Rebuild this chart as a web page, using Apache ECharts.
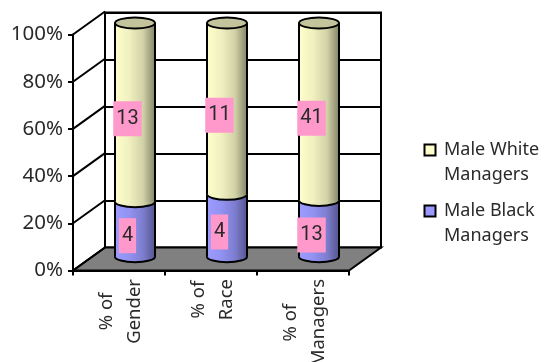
<!DOCTYPE html>
<html>
<head>
<meta charset="utf-8">
<style>html,body{margin:0;padding:0;background:#fff}#chart{width:546px;height:362px}</style>
<script src="https://cdn.jsdelivr.net/npm/echarts@6/dist/echarts.min.js"></script>
</head>
<body>
<div id="chart"></div>
<script>
const categories = ['% of\nGender', '% of\nRace', '% of\nManagers'];
const maleBlack = [4, 4, 13];
const maleWhite = [13, 11, 41];
const yTicks = [0, 20, 40, 60, 80, 100];

// Depth of the box: how far the back wall sits from the front axes.
const DEPTH_X = 32, DEPTH_Y = -23;
const CYL_HALF = 20, CYL_RY = 5.5;
const CYL_SCALE = 0.99;
const FONT = '"Noto Sans", sans-serif';
const INK = '#2a2a2a';

const blackShare = maleBlack.map((v, i) => v / (v + maleWhite[i]) * 100);
const blackData = maleBlack.map((v, i) => [i, 0, blackShare[i], v]);
const whiteData = maleWhite.map((v, i) => [i, blackShare[i], 100, v]);

const band = (stops) => ({
  type: 'linear', x: 0, y: 0, x2: 1, y2: 0,
  colorStops: stops.map(([offset, color]) => ({ offset, color }))
});
const blueFill = band([[0, '#9c9cff'], [0.35, '#9292f2'], [0.7, '#7d7dcf'], [1, '#565690']]);
const creamFill = band([[0, '#ffffcc'], [0.35, '#f0f0c0'], [0.7, '#d2d2a8'], [1, '#858568']]);

function cylinder(fill, capFill) {
  return function (params, api) {
    const i = api.value(0);
    const top = params.coordSys.y;
    const level = (py) => top + (py - top) * CYL_SCALE + DEPTH_Y / 2;
    const low = api.coord([i, api.value(1)]);
    const high = api.coord([i, api.value(2)]);
    const cx = low[0] + DEPTH_X / 2;
    const y0 = level(low[1]);
    const y1 = level(high[1]);
    const line = { stroke: '#000', lineWidth: 2 };
    const children = [
      { type: 'ellipse', shape: { cx, cy: y0, rx: CYL_HALF, ry: CYL_RY }, style: { fill, ...line } },
      { type: 'rect', shape: { x: cx - CYL_HALF, y: y1, width: CYL_HALF * 2, height: y0 - y1 }, style: { fill } },
      { type: 'line', shape: { x1: cx - CYL_HALF, y1: y0, x2: cx - CYL_HALF, y2: y1 }, style: line },
      { type: 'line', shape: { x1: cx + CYL_HALF, y1: y0, x2: cx + CYL_HALF, y2: y1 }, style: line }
    ];
    if (capFill) {
      children.push({ type: 'ellipse', shape: { cx, cy: y1, rx: CYL_HALF, ry: CYL_RY }, style: { fill: capFill, ...line } });
    }
    children.push({
      type: 'text', x: cx - 7.5, y: (y0 + y1) / 2 + 6.5, z2: 50,
      style: {
        text: String(api.value(3)), font: '20px Roboto, sans-serif', fill: INK,
        align: 'center', verticalAlign: 'middle',
        backgroundColor: '#ff99cc', padding: [7.5, 3, 7.5, 3]
      }
    });
    return { type: 'group', children };
  };
}

// Floor and the diagonal edges of the left side wall.
function boxEdges(params, api) {
  const sys = params.coordSys;
  const p = api.coord([0, api.value(0)]);
  const xl = sys.x, yb = sys.y + sys.height, xr = sys.x + sys.width;
  const line = { stroke: '#000', lineWidth: 2 };
  const children = [{
    type: 'line',
    shape: { x1: xl, y1: p[1], x2: xl + DEPTH_X, y2: p[1] + DEPTH_Y },
    style: line
  }];
  if (api.value(0) === 0) {
    children.unshift({
      type: 'polygon',
      shape: { points: [[xl, yb], [xl + DEPTH_X, yb + DEPTH_Y], [xr + DEPTH_X, yb + DEPTH_Y], [xr, yb]] },
      style: { fill: '#808080', ...line }
    });
  }
  return { type: 'group', children };
}

// Rotated category captions, hung from a common top edge with each line centred.
const CAPTION_FONT = '18.5px ' + FONT;
const measure = document.createElement('canvas').getContext('2d');
measure.font = CAPTION_FONT;
function caption(params, api) {
  const i = api.value(0);
  const text = categories[i];
  const longest = Math.max(...text.split('\n').map(s => measure.measureText(s).width));
  const p = api.coord([i, 0]);
  return {
    type: 'text', x: p[0] + 1.5, y: 279 + longest / 2, rotation: Math.PI / 2,
    style: { text, font: CAPTION_FONT, fill: INK, align: 'center', verticalAlign: 'middle', lineHeight: 28 }
  };
}

const chart = echarts.init(document.getElementById('chart'), null, { renderer: 'canvas' });
chart.setOption({
  animation: false,
  backgroundColor: '#fff',
  grid: [
    { left: 73, top: 34.5, width: 276, height: 236 },
    { left: 105, top: 12.5, width: 276, height: 235, show: true, borderColor: '#000', borderWidth: 2, backgroundColor: '#fff' }
  ],
  xAxis: [
    {
      type: 'category', gridIndex: 0, data: categories,
      axisLine: { lineStyle: { color: '#000', width: 2 } },
      axisTick: { show: true, length: 5, lineStyle: { color: '#000', width: 2 } },
      axisLabel: { show: false }
    },
    {
      type: 'category', gridIndex: 1, data: categories,
      axisLine: { show: false }, axisTick: { show: false }, axisLabel: { show: false }
    }
  ],
  yAxis: [
    {
      type: 'value', gridIndex: 0, min: 0, max: 100, interval: 20,
      axisLine: { show: true, lineStyle: { color: '#000', width: 2 } },
      axisTick: { show: true, length: 5, lineStyle: { color: '#000', width: 2 } },
      axisLabel: { margin: 10, color: INK, fontFamily: FONT, fontSize: 20.5, padding: [3, 0, 0, 0], formatter: '{value}%' },
      splitLine: { show: false }
    },
    {
      type: 'value', gridIndex: 1, min: 0, max: 100, interval: 20,
      axisLine: { show: false }, axisTick: { show: false }, axisLabel: { show: false },
      splitLine: { show: true, lineStyle: { color: '#000', width: 2 } }
    }
  ],
  legend: {
    left: 423.5, top: 111.5, padding: 0, orient: 'vertical', selectedMode: false,
    itemWidth: 11, itemHeight: 11, itemGap: -16, icon: 'rect',
    data: ['Male White Managers', 'Male Black Managers'],
    // A blank first line keeps the swatch level with the first line of the name.
    formatter: (name) => '\n' + name.replace(' Managers', '\nManagers'),
    textStyle: { color: INK, fontFamily: FONT, fontSize: 18, lineHeight: 25, padding: [2, 0, 0, 3.5] }
  },
  series: [
    {
      type: 'custom', xAxisIndex: 0, yAxisIndex: 0, z: 2, silent: true, clip: false,
      data: yTicks.map(v => [v]), encode: { y: 0 }, renderItem: boxEdges
    },
    {
      name: 'Male Black Managers', type: 'custom', z: 3, clip: false, silent: true,
      xAxisIndex: 0, yAxisIndex: 0,
      itemStyle: { color: '#9999ff', borderColor: '#000', borderWidth: 2 },
      data: blackData, encode: { x: 0, y: [1, 2] }, renderItem: cylinder(blueFill, null)
    },
    {
      name: 'Male White Managers', type: 'custom', z: 4, clip: false, silent: true,
      xAxisIndex: 0, yAxisIndex: 0,
      itemStyle: { color: '#ffffcc', borderColor: '#000', borderWidth: 2 },
      data: whiteData, encode: { x: 0, y: [1, 2] }, renderItem: cylinder(creamFill, '#c4c49c')
    },
    {
      type: 'custom', xAxisIndex: 0, yAxisIndex: 0, z: 5, clip: false, silent: true,
      data: categories.map((c, i) => [i]), encode: { x: 0 }, renderItem: caption
    }
  ]
});
</script>
</body>
</html>
